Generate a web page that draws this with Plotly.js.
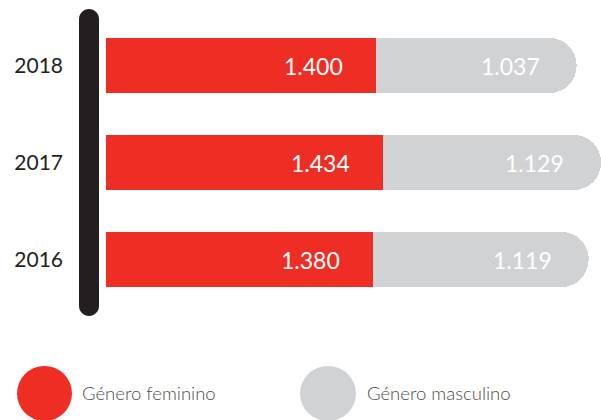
<!DOCTYPE html>
<html>
<head>
<meta charset="utf-8">
<script src="https://cdn.plot.ly/plotly-3.0.1.min.js"></script>
<style>html,body{margin:0;padding:0;background:#fff;}#chart{width:601px;height:420px;}</style>
</head>
<body>
<div id="chart"></div>
<script>
const years = ['2016', '2017', '2018'];
const feminino = [1380, 1434, 1400];
const masculino = [1119, 1129, 1037];
const seriesNames = ['Género feminino', 'Género masculino'];

const RED = '#EE2E24', GRAY = '#D1D2D4', DARK = '#231F20';
const FONT = 'Lato, "Open Sans", sans-serif';

function fmt(v) {
  const s = String(v);
  return s.length > 3 ? s.slice(0, s.length - 3) + '.' + s.slice(-3) : s;
}

const traces = [
  {type: 'bar', orientation: 'h', y: years, x: feminino, name: seriesNames[0],
   marker: {color: RED}, hoverinfo: 'none'},
  {type: 'bar', orientation: 'h', y: years, x: masculino, name: seriesNames[1],
   marker: {color: GRAY}, hoverinfo: 'none'}
];

const annotations = [];
years.forEach((yr, i) => {
  annotations.push({x: feminino[i], y: i, xref: 'x', yref: 'y', text: fmt(feminino[i]),
    showarrow: false, xanchor: 'right', yanchor: 'middle', xshift: -31,
    font: {family: FONT, size: 23, color: '#ffffff'}});
  annotations.push({x: feminino[i] + masculino[i], y: i, xref: 'x', yref: 'y', text: fmt(masculino[i]),
    showarrow: false, xanchor: 'right', yanchor: 'middle', xshift: -35,
    font: {family: FONT, size: 23, color: '#ffffff'}});
});
// legend labels
annotations.push({x: 0, y: 0, xref: 'paper', yref: 'paper', xshift: -26, yshift: -85,
  xanchor: 'left', yanchor: 'middle', showarrow: false, text: seriesNames[0],
  font: {family: FONT, size: 18.5, color: '#4d4d4d', weight: 300}});
annotations.push({x: 0, y: 0, xref: 'paper', yref: 'paper', xshift: 259, yshift: -85,
  xanchor: 'left', yanchor: 'middle', showarrow: false, text: seriesNames[1],
  font: {family: FONT, size: 18.5, color: '#4d4d4d', weight: 300}});

const shapes = [
  {type: 'path', xref: 'paper', yref: 'paper', xsizemode: 'pixel', ysizemode: 'pixel',
   xanchor: 0, yanchor: 1, fillcolor: DARK, line: {width: 0},
   path: 'M -27 -2 C -27 3.52 -22.52 8 -17 8 C -11.48 8 -7 3.52 -7 -2 L -7 -289 ' +
         'C -7 -294.52 -11.48 -299 -17 -299 C -22.52 -299 -27 -294.52 -27 -289 Z'},
  {type: 'circle', xref: 'paper', yref: 'paper', xsizemode: 'pixel', ysizemode: 'pixel',
   xanchor: 0, yanchor: 0, x0: -89, x1: -34, y0: -113, y1: -58,
   fillcolor: RED, line: {width: 0}},
  {type: 'circle', xref: 'paper', yref: 'paper', xsizemode: 'pixel', ysizemode: 'pixel',
   xanchor: 0, yanchor: 0, x0: 194, x1: 250, y0: -113, y1: -58,
   fillcolor: GRAY, line: {width: 0}}
];

const layout = {
  width: 601, height: 420,
  margin: {l: 106, r: 0, t: 17, b: 112, pad: 0},
  paper_bgcolor: '#ffffff', plot_bgcolor: '#ffffff',
  barmode: 'stack', bargap: 0.433, barcornerradius: 27,
  showlegend: false,
  xaxis: {range: [0, 2563], visible: false, fixedrange: true},
  yaxis: {type: 'category', range: [-0.5, 2.5], autorange: false,
    showgrid: false, zeroline: false, showline: false, ticks: '',
    ticklabelstandoff: 42,
    tickfont: {family: FONT, size: 21, color: DARK}, fixedrange: true},
  annotations: annotations,
  shapes: shapes,
  font: {family: FONT}
};

Plotly.newPlot('chart', traces, layout, {displayModeBar: false, staticPlot: true});
</script>
</body>
</html>
